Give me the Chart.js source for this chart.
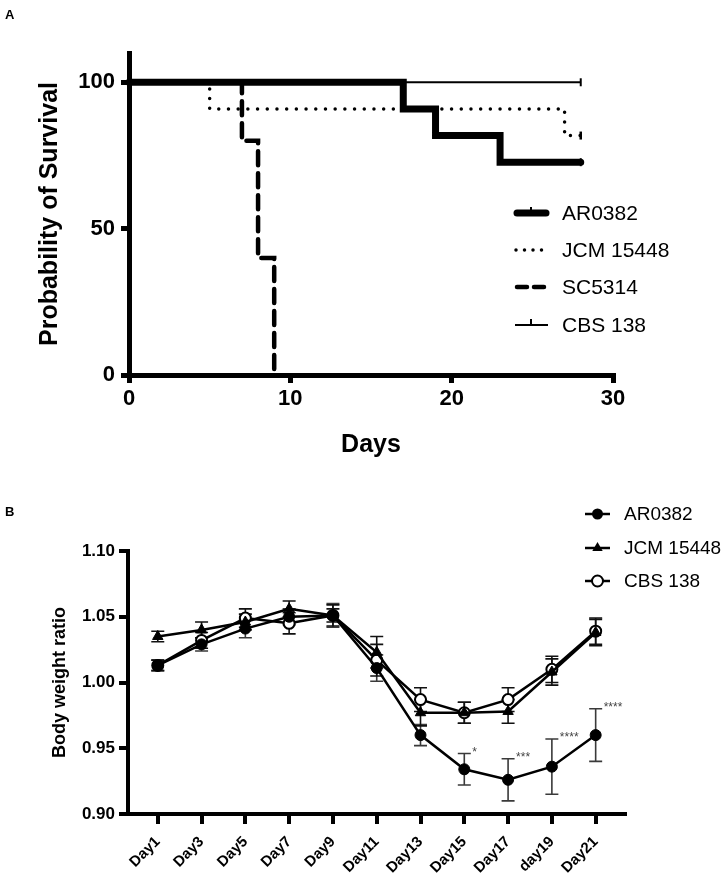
<!DOCTYPE html>
<html><head><meta charset="utf-8">
<script src="https://cdn.jsdelivr.net/npm/chart.js@4.4.1/dist/chart.umd.min.js"></script>
<style>
html,body{margin:0;padding:0;background:#fff;}
#wrap{position:relative;width:726px;height:879px;overflow:hidden;background:#fff;}
canvas{position:absolute;left:0;}
#cA{top:0;} #cB{top:460px;}
.lbl{position:absolute;font:bold 13px "Liberation Sans",Arial,sans-serif;color:#000;line-height:15px;}
</style></head><body>
<div id="wrap">
<canvas id="cA" width="726" height="460"></canvas>
<canvas id="cB" width="726" height="419"></canvas>
<div class="lbl" style="left:5px;top:7px">A</div>
<div class="lbl" style="left:5px;top:504px">B</div>
</div>
<script>
// ---------- Panel A data (Kaplan-Meier survival) ----------
const survNames = ['AR0382', 'JCM 15448', 'SC5314', 'CBS 138'];
const arDays  = [0, 17, 19, 23, 28];
const arSurv  = [100, 90.9, 81.8, 72.7, 72.7];
const jcmDays = [0, 5, 27, 28];
const jcmSurv = [100, 90.9, 81.8, 81.8];
const scDays  = [0, 7, 8, 9];
const scSurv  = [100, 80, 40, 0];
const cbsDays = [0, 28];
const cbsSurv = [100, 100];
const xTicksA = [0, 10, 20, 30];
const yTicksA = [0, 50, 100];

// ---------- Panel B data (body weight ratio) ----------
const dayLabels = ['Day1','Day3','Day5','Day7','Day9','Day11','Day13','Day15','Day17','day19','Day21'];
const bwNames = ['AR0382', 'JCM 15448', 'CBS 138'];
const arBW   = [1.013, 1.029, 1.041, 1.050, 1.051, 1.011, 0.960, 0.934, 0.926, 0.936, 0.960];
const arErr  = [0.004, 0.005, 0.007, 0.006, 0.009, 0.010, 0.008, 0.012, 0.016, 0.021, 0.020];
const jcmBW  = [1.035, 1.040, 1.046, 1.056, 1.051, 1.023, 0.977, 0.977, 0.978, 1.008, 1.038];
const jcmErr = [0.004, 0.006, 0.006, 0.006, 0.005, 0.012, 0.010, 0.008, 0.009, 0.010, 0.010];
const cbsBW  = [1.013, 1.032, 1.049, 1.045, 1.051, 1.017, 0.987, 0.977, 0.987, 1.010, 1.039];
const cbsErr = [0.004, 0.006, 0.007, 0.008, 0.008, 0.012, 0.009, 0.008, 0.009, 0.010, 0.010];
const starLabels = ['', '', '', '', '', '', '', '*', '***', '****', '****'];
const yTicksB = [0.90, 0.95, 1.00, 1.05, 1.10];

const FONT = '"Liberation Sans", Arial, Helvetica, sans-serif';
const pts = (xs, ys) => xs.map((x, i) => ({x: x, y: ys[i]}));
const lastOnly = (arr, r) => arr.map((_, i) => i === arr.length - 1 ? r : 0);

// ---------- Panel A ----------
const legendA = {
  id: 'legendA',
  afterDraw(chart) {
    const ctx = chart.ctx;
    const rows = [213, 250, 287, 325];
    const x0 = 515, x1 = 548, xt = 562;
    ctx.save();
    ctx.strokeStyle = '#000';
    // AR0382
    ctx.lineWidth = 7; ctx.lineCap = 'round'; ctx.setLineDash([]);
    ctx.beginPath(); ctx.moveTo(x0 + 2, rows[0]); ctx.lineTo(x1 - 2, rows[0]); ctx.stroke();
    ctx.lineWidth = 2; ctx.lineCap = 'butt';
    ctx.beginPath(); ctx.moveTo(531, rows[0] - 6); ctx.lineTo(531, rows[0]); ctx.stroke();
    // JCM dotted
    ctx.lineWidth = 3.5; ctx.lineCap = 'round'; ctx.setLineDash([0, 8.5]);
    ctx.beginPath(); ctx.moveTo(x0 + 1, rows[1]); ctx.lineTo(x1, rows[1]); ctx.stroke();
    // SC dashed
    ctx.lineWidth = 4.5; ctx.lineCap = 'round'; ctx.setLineDash([10, 7]);
    ctx.beginPath(); ctx.moveTo(x0 + 2, rows[2]); ctx.lineTo(x1, rows[2]); ctx.stroke();
    // CBS thin
    ctx.setLineDash([]); ctx.lineWidth = 2; ctx.lineCap = 'butt';
    ctx.beginPath(); ctx.moveTo(x0, rows[3]); ctx.lineTo(x1, rows[3]); ctx.stroke();
    ctx.beginPath(); ctx.moveTo(531, rows[3] - 6); ctx.lineTo(531, rows[3]); ctx.stroke();
    ctx.fillStyle = '#000';
    ctx.font = '21px ' + FONT;
    ctx.textBaseline = 'middle'; ctx.textAlign = 'left';
    survNames.forEach((n, i) => ctx.fillText(n, xt, rows[i] + 1));
    ctx.restore();
  }
};

new Chart(document.getElementById('cA'), {
  type: 'line',
  data: {
    datasets: [
      {label: survNames[0], data: pts(arDays, arSurv), stepped: true, borderColor: '#000', borderWidth: 7,
       borderCapStyle: 'round', pointRadius: lastOnly(arDays, 4), pointStyle: 'line', pointRotation: 90,
       pointBorderWidth: 2, pointBorderColor: '#000', pointBackgroundColor: '#000', clip: false},
      {label: survNames[1], data: pts(jcmDays, jcmSurv), stepped: true, borderColor: '#000', borderWidth: 3.5,
       borderDash: [0, 9.7], borderCapStyle: 'round', pointRadius: lastOnly(jcmDays, 4), pointStyle: 'line', pointRotation: 90,
       pointBorderWidth: 2.5, pointBorderColor: '#000', clip: false},
      {label: survNames[2], data: pts(scDays, scSurv), stepped: true, borderColor: '#000', borderWidth: 4.5,
       borderDash: [14, 8], borderCapStyle: 'round', pointRadius: 0, clip: false},
      {label: survNames[3], data: pts(cbsDays, cbsSurv), stepped: true, borderColor: '#000', borderWidth: 2,
       pointRadius: lastOnly(cbsDays, 4), pointStyle: 'line', pointRotation: 90,
       pointBorderWidth: 2, pointBorderColor: '#000', clip: false}
    ]
  },
  options: {
    responsive: false, animation: false, devicePixelRatio: 1,
    layout: {padding: {top: 53, right: 113, left: 0, bottom: 0}},
    plugins: {legend: {display: false}, tooltip: {enabled: false}},
    scales: {
      x: {
        type: 'linear', min: 0, max: 30,
        afterBuildTicks: s => { s.ticks = xTicksA.map(v => ({value: v})); },
        afterFit: s => { s.height = 460 - 375; },
        grid: {drawOnChartArea: false, drawTicks: true, tickLength: 8, lineWidth: 5, color: '#000'},
        border: {display: true, width: 5, color: '#000'},
        ticks: {color: '#000', font: {family: FONT, size: 22, weight: 'bold'}, padding: 3, maxRotation: 0, autoSkip: false},
        title: {display: true, text: 'Days', color: '#000', font: {family: FONT, size: 25, weight: 'bold'}, padding: {top: 0, bottom: 0}}
      },
      y: {
        type: 'linear', min: 0, max: 110,
        afterBuildTicks: s => { s.ticks = yTicksA.map(v => ({value: v})); },
        afterFit: s => { s.width = 129; },
        grid: {drawOnChartArea: false, drawTicks: true, tickLength: 8, lineWidth: 5, color: '#000'},
        border: {display: true, width: 5, color: '#000'},
        ticks: {color: '#000', font: {family: FONT, size: 22, weight: 'bold'}, padding: 6},
        title: {display: true, text: 'Probability of Survival', color: '#000', font: {family: FONT, size: 25, weight: 'bold'}, padding: {top: 35, bottom: 0}}
      }
    }
  },
  plugins: [legendA]
});

// ---------- Panel B ----------
const errSets = [arErr, jcmErr, cbsErr];
const errColors = ['#3a3a3a', '#111', '#111'];
const errPlugin = {
  id: 'errBars',
  beforeDatasetsDraw(chart) {
    const ctx = chart.ctx, xs = chart.scales.x, ys = chart.scales.y;
    chart.data.datasets.forEach((ds, di) => {
      const errs = errSets[di];
      ctx.save();
      ctx.strokeStyle = errColors[di]; ctx.lineWidth = 1.6;
      ds.data.forEach((p, i) => {
        const x = xs.getPixelForValue(p.x);
        const y1 = ys.getPixelForValue(p.y - errs[i]);
        const y2 = ys.getPixelForValue(p.y + errs[i]);
        ctx.beginPath();
        ctx.moveTo(x, y1); ctx.lineTo(x, y2);
        ctx.moveTo(x - 6.5, y1); ctx.lineTo(x + 6.5, y1);
        ctx.moveTo(x - 6.5, y2); ctx.lineTo(x + 6.5, y2);
        ctx.stroke();
      });
      ctx.restore();
    });
  },
  afterDraw(chart) {
    const ctx = chart.ctx, xs = chart.scales.x, ys = chart.scales.y;
    ctx.save();
    // significance stars
    ctx.fillStyle = '#444'; ctx.font = '12px ' + FONT;
    ctx.textAlign = 'left'; ctx.textBaseline = 'alphabetic';
    starLabels.forEach((s, i) => {
      if (!s) return;
      const x = xs.getPixelForValue(i) + 8;
      const y = ys.getPixelForValue(arBW[i] + arErr[i]) + 2;
      ctx.fillText(s, x, y);
    });
    // legend
    const rows = [54, 88, 121];
    const x0 = 585, x1 = 610, xm = 597.5, xt = 624;
    ctx.strokeStyle = '#000'; ctx.fillStyle = '#000'; ctx.lineWidth = 2.5;
    rows.forEach(y => { ctx.beginPath(); ctx.moveTo(x0, y); ctx.lineTo(x1, y); ctx.stroke(); });
    ctx.beginPath(); ctx.arc(xm, rows[0], 5.5, 0, Math.PI * 2); ctx.fill();
    ctx.beginPath();
    for (let k = 0; k < 3; k++) {
      const a = k * 2 * Math.PI / 3;
      const px = xm + Math.sin(a) * 6, py = rows[1] - Math.cos(a) * 6;
      if (k === 0) ctx.moveTo(px, py); else ctx.lineTo(px, py);
    }
    ctx.closePath(); ctx.fill();
    ctx.fillStyle = '#fff'; ctx.lineWidth = 2;
    ctx.beginPath(); ctx.arc(xm, rows[2], 5.5, 0, Math.PI * 2); ctx.fill(); ctx.stroke();
    ctx.fillStyle = '#000'; ctx.font = '19px ' + FONT; ctx.textBaseline = 'middle';
    bwNames.forEach((n, i) => ctx.fillText(n, xt, rows[i] + 1));
    ctx.restore();
  }
};

const idx = dayLabels.map((_, i) => i);
new Chart(document.getElementById('cB'), {
  type: 'line',
  data: {
    datasets: [
      {label: bwNames[0], data: pts(idx, arBW), borderColor: '#000', borderWidth: 2.5, pointStyle: 'circle', pointRadius: 5.5,
       pointBackgroundColor: '#000', pointBorderColor: '#000', pointBorderWidth: 1, clip: false},
      {label: bwNames[1], data: pts(idx, jcmBW), borderColor: '#000', borderWidth: 2.5, pointStyle: 'triangle', pointRadius: 6,
       pointBackgroundColor: '#000', pointBorderColor: '#000', pointBorderWidth: 1, clip: false},
      {label: bwNames[2], data: pts(idx, cbsBW), borderColor: '#000', borderWidth: 2.5, pointStyle: 'circle', pointRadius: 5.5,
       pointBackgroundColor: '#fff', pointBorderColor: '#000', pointBorderWidth: 2, clip: false}
    ]
  },
  options: {
    responsive: false, animation: false, devicePixelRatio: 1,
    layout: {padding: {top: 91, right: 101, left: 0, bottom: 0}},
    plugins: {legend: {display: false}, tooltip: {enabled: false}},
    scales: {
      x: {
        type: 'linear', min: -0.68, max: 10.67,
        afterBuildTicks: s => { s.ticks = idx.map(v => ({value: v})); },
        afterFit: s => { s.height = 419 - 354; },
        grid: {drawOnChartArea: false, drawTicks: true, tickLength: 10, lineWidth: 4, color: '#000'},
        border: {display: true, width: 4, color: '#000'},
        ticks: {color: '#000', font: {family: FONT, size: 15, weight: 'bold'}, padding: 9, minRotation: 45, maxRotation: 45, autoSkip: false,
                callback: v => dayLabels[v]}
      },
      y: {
        type: 'linear', min: 0.90, max: 1.10,
        afterBuildTicks: s => { s.ticks = yTicksB.map(v => ({value: v})); },
        afterFit: s => { s.width = 128; },
        grid: {drawOnChartArea: false, drawTicks: true, tickLength: 9, lineWidth: 4, color: '#000'},
        border: {display: true, width: 4, color: '#000'},
        ticks: {color: '#000', font: {family: FONT, size: 17, weight: 'bold'}, padding: 4, callback: v => v.toFixed(2)},
        title: {display: true, text: 'Body weight ratio', color: '#000', font: {family: FONT, size: 18, weight: 'bold'}, padding: {top: 49, bottom: 0}}
      }
    }
  },
  plugins: [errPlugin]
});
</script>
</body></html>
